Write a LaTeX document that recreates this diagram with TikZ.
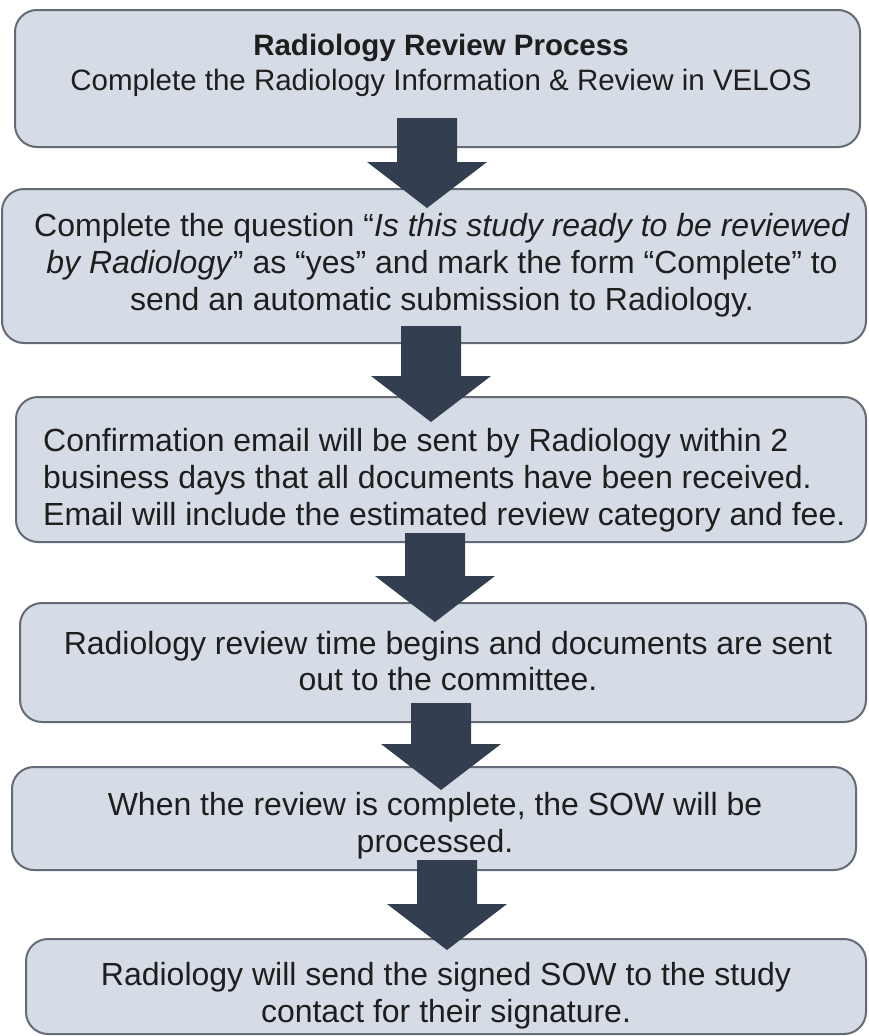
\documentclass[tikz,border=0pt]{standalone}
\usepackage{fontspec}
\setmainfont{Liberation Sans}
\usetikzlibrary{calc}
\definecolor{boxfill}{HTML}{D6DCE5}
\definecolor{boxline}{HTML}{646B77}
\definecolor{arrowfill}{HTML}{333F50}
\definecolor{textcol}{HTML}{1E1E1E}
\newcommand\blockarrow[2]{%
  \fill[bigarrow] ($(#1)+(-30,0)$) -- ($(#1)+(30,0)$) -- ($(#2)+(30,-46)$) -- ($(#2)+(60,-46)$) -- (#2) -- ($(#2)+(-60,-46)$) -- ($(#2)+(-30,-46)$) -- cycle;}
\begin{document}
\begin{tikzpicture}[x=1pt,y=-1pt,
  procbox/.style={draw=boxline, fill=boxfill, line width=2pt, rounded corners=22pt, inner sep=0pt, outer sep=0pt},
  txt/.style={text=textcol, font=\fontsize{32}{36.8}\selectfont, align=center, inner sep=0pt},
  bigarrow/.style={fill=arrowfill}]
\useasboundingbox (0,0) rectangle (868,1036);

% boxes
\node[procbox, minimum width=845pt, minimum height=137pt] (b1) at (437.5,78.5) {};
\node[procbox, minimum width=864pt, minimum height=154pt] (b2) at (434,266) {};
\node[procbox, minimum width=850pt, minimum height=145pt] (b3) at (441,469.5) {};
\node[procbox, minimum width=846pt, minimum height=119pt] (b4) at (443,662.5) {};
\node[procbox, minimum width=844pt, minimum height=103pt] (b5) at (434,818.5) {};
\node[procbox, minimum width=840pt, minimum height=95pt] (b6) at (446,986.5) {};

% texts
\node[txt, font=\fontsize{29.5}{35}\selectfont] (t1) at (441,65)
  {\textbf{Radiology Review Process}\\Complete the Radiology Information \& Review in VELOS};
\node[txt] (t2) at (442,265)
  {Complete the question “\textit{Is this study ready to be reviewed}\\\textit{by Radiology}” as “yes” and mark the form “Complete” to\\send an automatic submission to Radiology.};
\node[txt, align=left, anchor=west] (t3) at (43,480)
  {Confirmation email will be sent by Radiology within 2\\business days that all documents have been received.\\Email will include the estimated review category and fee.};
\node[txt] (t4) at (448,661)
  {Radiology review time begins and documents are sent\\out to the committee.};
\node[txt] (t5) at (435,826)
  {When the review is complete, the SOW will be\\processed.};
\node[txt] (t6) at (446,996)
  {Radiology will send the signed SOW to the study\\contact for their signature.};

% arrows
\coordinate (a1s) at (427,118); \coordinate (a1e) at (427,208);
\coordinate (a2s) at (431,326); \coordinate (a2e) at (431,422);
\coordinate (a3s) at (435,533); \coordinate (a3e) at (435,622);
\coordinate (a4s) at (441,703); \coordinate (a4e) at (441,790);
\coordinate (a5s) at (447,860); \coordinate (a5e) at (447,950);
\blockarrow{a1s}{a1e}
\blockarrow{a2s}{a2e}
\blockarrow{a3s}{a3e}
\blockarrow{a4s}{a4e}
\blockarrow{a5s}{a5e}
\end{tikzpicture}
\end{document}
